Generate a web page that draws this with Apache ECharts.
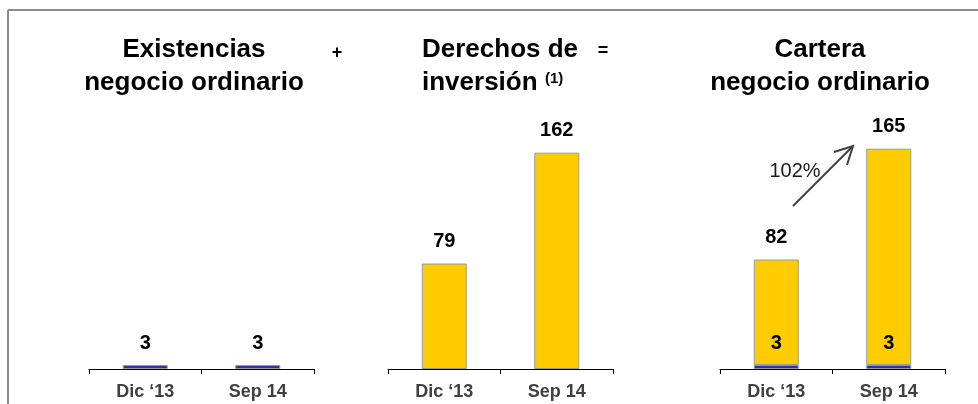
<!DOCTYPE html>
<html>
<head>
<meta charset="utf-8">
<script src="https://cdn.jsdelivr.net/npm/echarts@6/dist/echarts.min.js"></script>
<style>
  html, body { margin: 0; padding: 0; background: #fff; }
  #chart { width: 978px; height: 404px; }
</style>
</head>
<body>
<div id="chart"></div>
<script>
// data
var periods = ['Dic \u201813', 'Sep 14'];
var existencias = [3, 3];
var derechos = [79, 162];
var carteraExist = [3, 3];
var carteraDerechos = [79, 162];
var carteraTotal = [82, 165];
var growthLabel = '102%';

var FONT = '"Liberation Sans", Arial, sans-serif';
var YELLOW = '#FFCC00';
var BLUE = '#333399';
var EDGE = '#9a9a9a';

var chart = echarts.init(document.getElementById('chart'));

function grid(left) {
	return { left: left, width: 225, top: 102, bottom: 35 };
}

function xAxis(idx) {
	return {
		type: 'category',
		gridIndex: idx,
		data: periods,
		axisLine: { lineStyle: { color: '#000', width: 1 } },
		axisTick: { show: true, alignWithLabel: false, interval: 0, length: 5, lineStyle: { color: '#000', width: 1 } },
		axisLabel: { color: '#404040', fontFamily: FONT, fontWeight: 'bold', fontSize: 18, margin: 14 }
	};
}

function yAxis(idx) {
	return { type: 'value', gridIndex: idx, min: 0, max: 200, show: false, splitLine: { show: false } };
}

var valueLabel = {
	show: true,
	position: 'top',
	distance: 12,
	color: '#000',
	fontFamily: FONT,
	fontWeight: 'bold',
	fontSize: 20,
	lineHeight: 20
};

function bar(idx, data, color, extra) {
	var s = {
		type: 'bar',
		xAxisIndex: idx,
		yAxisIndex: idx,
		data: data,
		barWidth: 45,
		itemStyle: { color: color, borderColor: EDGE, borderWidth: 1 },
		label: valueLabel,
		silent: true
	};
	return Object.assign(s, extra || {});
}

var titleStyle = {
	font: 'bold 26px ' + FONT,
	fill: '#000',
	lineHeight: 33,
	textVerticalAlign: 'top'
};

var option = {
	animation: false,
	grid: [grid(89), grid(388), grid(720)],
	xAxis: [xAxis(0), xAxis(1), xAxis(2)],
	yAxis: [yAxis(0), yAxis(1), yAxis(2)],
	series: [
		bar(0, existencias, BLUE),
		bar(1, derechos, YELLOW),
		bar(2, carteraExist, BLUE, { stack: 'c', z: 3 }),
		bar(2, carteraDerechos, YELLOW, {
			stack: 'c',
			label: Object.assign({}, valueLabel, {
				formatter: function (p) { return carteraTotal[p.dataIndex]; }
			})
		})
	],
	graphic: [
		// frame
		{ type: 'line', shape: { x1: 8, y1: 10, x2: 978, y2: 10 }, style: { stroke: '#8c8c8c', lineWidth: 2 } },
		{ type: 'line', shape: { x1: 8, y1: 10, x2: 8, y2: 404 }, style: { stroke: '#8c8c8c', lineWidth: 2 } },
		// headings
		{ type: 'text', x: 194, y: 33, style: Object.assign({}, titleStyle, { text: 'Existencias\nnegocio ordinario', textAlign: 'center' }) },
		{ type: 'text', x: 422, y: 33, style: Object.assign({}, titleStyle, { text: 'Derechos de\ninversión', textAlign: 'left' }) },
		{ type: 'text', x: 545, y: 71, style: { text: '(1)', font: 'bold 15px ' + FONT, fill: '#000', textAlign: 'left', textVerticalAlign: 'top' } },
		{ type: 'text', x: 820, y: 33, style: Object.assign({}, titleStyle, { text: 'Cartera\nnegocio ordinario', textAlign: 'center' }) },
		{ type: 'text', x: 337, y: 53, style: { text: '+', font: 'bold 18px ' + FONT, fill: '#000', textAlign: 'center', textVerticalAlign: 'middle' } },
		{ type: 'text', x: 603, y: 51, style: { text: '=', font: 'bold 18px ' + FONT, fill: '#000', textAlign: 'center', textVerticalAlign: 'middle' } },
		// growth arrow
		{ type: 'line', shape: { x1: 793, y1: 206, x2: 853, y2: 146 }, style: { stroke: '#404040', lineWidth: 2 } },
		{ type: 'polyline', shape: { points: [[834, 152], [853, 146], [847, 165]] }, style: { stroke: '#404040', lineWidth: 2, fill: null } },
		{ type: 'text', x: 795, y: 171, style: { text: growthLabel, font: '20px ' + FONT, fill: '#1a1a1a', textAlign: 'center', textVerticalAlign: 'middle' } }
	]
};

chart.setOption(option);
</script>
</body>
</html>
